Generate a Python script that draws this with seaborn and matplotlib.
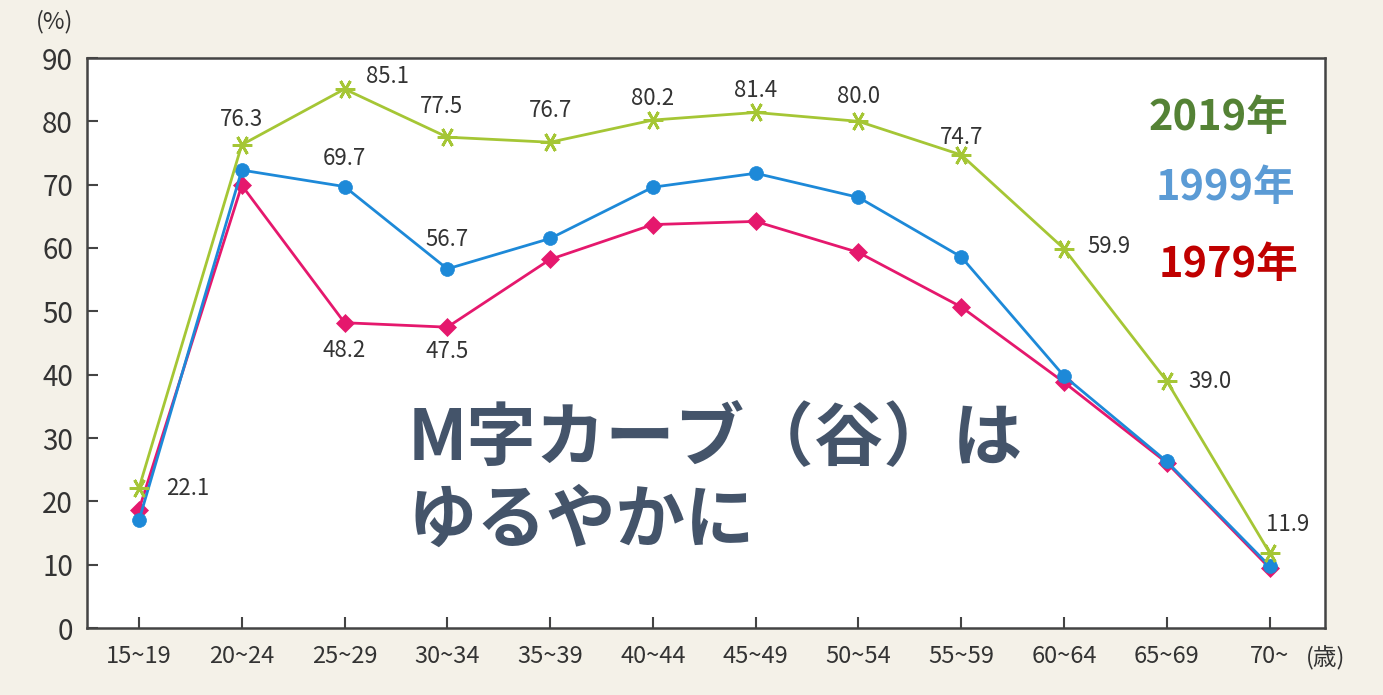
import matplotlib
matplotlib.use("Agg")
import matplotlib.pyplot as plt
import seaborn as sns
import pandas as pd
import numpy as np

ages = ["15~19", "20~24", "25~29", "30~34", "35~39", "40~44", "45~49",
        "50~54", "55~59", "60~64", "65~69", "70~"]
v2019 = [22.1, 76.3, 85.1, 77.5, 76.7, 80.2, 81.4, 80.0, 74.7, 59.9, 39.0, 11.9]
v1999 = [17.0, 72.3, 69.7, 56.7, 61.5, 69.6, 71.8, 68.0, 58.6, 39.8, 26.3, 9.8]
v1979 = [18.7, 69.9, 48.2, 47.5, 58.2, 63.7, 64.2, 59.3, 50.7, 38.8, 26.1, 9.5]
yticks = [0, 10, 20, 30, 40, 50, 60, 70, 80, 90]

sns.set_theme(style="white")
plt.rcParams['font.family'] = ['Noto Sans CJK JP', 'DejaVu Sans']

fig = plt.figure(figsize=(13.83, 6.95), dpi=100, facecolor="#f4f1e8")
ax = fig.add_axes([87/1383, 1-628/695, (1325-87)/1383, (628-58)/695])
ax.set_facecolor("white")

xi = list(range(len(ages)))
df = pd.DataFrame({"x": xi * 3,
                   "v": v1979 + v1999 + v2019,
                   "year": ["1979"] * 12 + ["1999"] * 12 + ["2019"] * 12})

styles = {
    "1979": dict(color="#e5186d", marker="D", ms=9),
    "1999": dict(color="#1d89d8", marker="o", ms=10),
    "2019": dict(color="#a5c635", marker=(6, 2, 90), ms=14),
}
for yr in ["1979", "1999", "2019"]:
    s = styles[yr]
    sub = df[df.year == yr]
    sns.lineplot(data=sub, x="x", y="v", ax=ax, color=s["color"], lw=2,
                 marker=s["marker"], markersize=s["ms"], markeredgecolor=s["color"],
                 markeredgewidth=2 if yr == "2019" else 0.5, legend=False)

lab = dict(fontsize=16, color="#333333", ha="center", va="center")
px = 0.72  # pixels -> points
# 2019 labels: (dx, dy in pixels)
off2019 = [(49, 0), (0, 25), (43, 13), (-6, 31), (0, 32), (0, 22), (0, 22), (0, 25),
           (0, 17), (45, 2), (43, 0), (18, 28)]
for i, (v, o) in enumerate(zip(v2019, off2019)):
    ax.annotate(f"{v:.1f}", (i, v), xytext=(o[0]*px, o[1]*px), textcoords="offset points", **lab)
ax.annotate(f"{v1999[2]:.1f}", (2, v1999[2]), xytext=(0, 28*px), textcoords="offset points", **lab)
ax.annotate(f"{v1999[3]:.1f}", (3, v1999[3]), xytext=(0, 29*px), textcoords="offset points", **lab)
ax.annotate(f"{v1979[2]:.1f}", (2, v1979[2]), xytext=(0, -28*px), textcoords="offset points", **lab)
ax.annotate(f"{v1979[3]:.1f}", (3, v1979[3]), xytext=(0, -24*px), textcoords="offset points", **lab)

ax.set_xlim(-0.506, 11.54)
ax.set_ylim(0, 90)
ax.set_yticks(yticks)
ax.set_yticklabels([str(t) for t in yticks], fontsize=20, color="#333333")
ax.set_xticks(xi)
ax.set_xticklabels(ages, fontsize=17, color="#333333")
ax.tick_params(axis="both", direction="in", length=8, width=1.5, color="#444444",
               left=True, bottom=True)
ax.tick_params(axis="y", pad=10)
ax.tick_params(axis="x", pad=12)
ax.set_xlabel("")
ax.set_ylabel("")
for sp in ax.spines.values():
    sp.set_color("#444444")
    sp.set_linewidth(1.8)

fig.text(36/1383, 1-22/695, "(%)", fontsize=17, color="#333333", ha="left", va="center")
fig.text(1306/1383, 1-658/695, "(歳)", fontsize=17, color="#333333", ha="left", va="center")

fig.text(1218/1383, 1-118/695, "2019年", fontsize=30, fontweight="bold", color="#548235", ha="center", va="center")
fig.text(1225/1383, 1-188/695, "1999年", fontsize=30, fontweight="bold", color="#5b9bd5", ha="center", va="center")
fig.text(1228/1383, 1-265/695, "1979年", fontsize=30, fontweight="bold", color="#c00000", ha="center", va="center")

fig.text(408/1383, 1-440/695, "M字カーブ（谷）は", fontsize=50, fontweight="bold", color="#44546a", ha="left", va="center")
fig.text(408/1383, 1-522/695, "ゆるやかに", fontsize=50, fontweight="bold", color="#44546a", ha="left", va="center")

fig.savefig("out.png", dpi=100, facecolor=fig.get_facecolor())
